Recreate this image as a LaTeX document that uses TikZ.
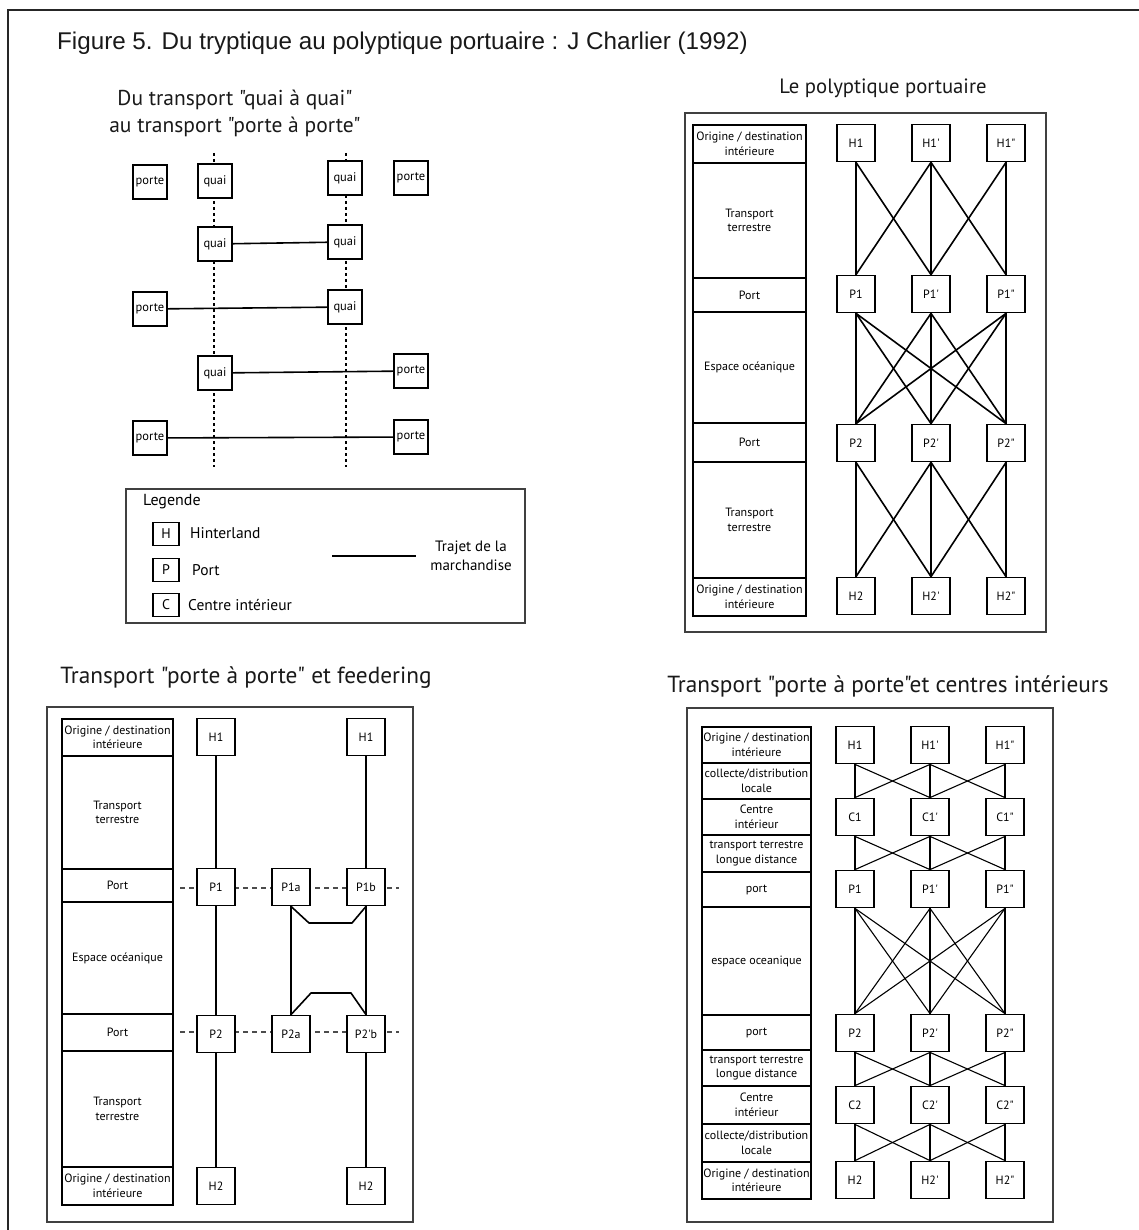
\documentclass[tikz,border=0pt]{standalone}
\usepackage{fontspec}
\setmainfont{PT Sans}[Ligatures=TeXOff]
\newfontfamily\titlefont{Liberation Sans}
\newcommand\dq{\symbol{34}}
\newcommand\sq{\symbol{39}}
\begin{document}
\begin{tikzpicture}[x=1pt,y=-1pt,
  frame/.style={line width=1.8pt,draw=black!85},
  panel/.style={line width=1.4pt,draw=black!75},
  heading/.style={align=center,text=black!90},
  nbox/.style={draw,fill=white,line width=1.8pt,minimum width=38,minimum height=37,inner sep=0,font=\fontsize{12}{14}\selectfont},
  qbox/.style={draw,fill=white,line width=1.8pt,minimum size=34,inner sep=0,font=\fontsize{12.5}{14}\selectfont},
  lbox/.style={draw,line width=1.2pt,minimum width=26,minimum height=23,inner sep=0,font=\fontsize{14}{16}\selectfont},
  cell/.style={draw,line width=1.3pt,inner sep=0,align=center,font=\fontsize{12}{14.5}\selectfont},
  ltext/.style={anchor=west,inner sep=0,font=\fontsize{15.5}{18}\selectfont},
  conn/.style={line width=1.6pt},
  thinconn/.style={line width=1.1pt},
  guide/.style={line width=1.5pt,dash pattern=on 3pt off 3pt},
  feedline/.style={line width=1.3pt,black!70,dash pattern=on 5pt off 4pt}
]
\useasboundingbox (0,0) rectangle (1139,1230);
\newcommand\cellbox[6]{\node[cell,minimum width={#3-#2},minimum height={#5-#4}] (#1) at ({(#2+#3)/2},{(#4+#5)/2}) {#6};}

% outer frame (open on the right and bottom)
\coordinate (fa) at (8,1230);
\coordinate (fb) at (8,10);
\coordinate (fc) at (1139,10);
\draw[frame] (fa) -- (fb) -- (fc);

\node[anchor=base west,inner sep=0,font=\titlefont\fontsize{24.2}{28}\selectfont,text=black!90] (title) at (57,50)
  {Figure 5. Du tryptique au polyptique portuaire : J Charlier (1992)};

% ================= top-left panel =================
\node[heading,font=\fontsize{21.5}{27}\selectfont] (tlhead) at (235,113) {Du transport \dq quai à quai\dq\\au transport \dq porte à porte\dq};
\coordinate (gla) at (214,153);
\coordinate (glb) at (214,467);
\coordinate (gra) at (346,153);
\coordinate (grb) at (346,467);
\draw[guide] (gla) -- (glb);
\draw[guide] (gra) -- (grb);

\node[qbox] (r1a) at (150,182) {porte};
\node[qbox] (r1b) at (215,181) {quai};
\node[qbox] (r1c) at (345,178) {quai};
\node[qbox] (r1d) at (411,178) {porte};

\node[qbox] (r2a) at (215,244) {quai};
\node[qbox] (r2b) at (345,242) {quai};
\draw[conn] (r2a) -- (r2b);

\node[qbox] (r3a) at (150,309) {porte};
\node[qbox] (r3b) at (345,307) {quai};
\draw[conn] (r3a) -- (r3b);

\node[qbox] (r4a) at (215,373) {quai};
\node[qbox] (r4b) at (411,371) {porte};
\draw[conn] (r4a) -- (r4b);

\node[qbox] (r5a) at (150,438) {porte};
\node[qbox] (r5b) at (411,437) {porte};
\draw[conn] (r5a) -- (r5b);

% legend
\draw[panel] (126,489) rectangle (525,623);
\node[ltext,font=\fontsize{16}{18}\selectfont] (leg) at (143,502) {Legende};
\node[lbox] (legH) at (166,534) {H};
\node[ltext] (legHt) at (190,533) {Hinterland};
\node[lbox] (legP) at (166,570) {P};
\node[ltext] (legPt) at (192,570) {Port};
\node[lbox] (legC) at (166,605) {C};
\node[ltext] (legCt) at (188,605) {Centre intérieur};
\coordinate (lla) at (332,556);
\coordinate (llb) at (416,556);
\draw[conn] (lla) -- (llb);
\node[align=center,inner sep=0,font=\fontsize{15}{19}\selectfont] (legtr) at (471,556) {Trajet de la\\marchandise};

% ================= top-right panel =================
\node[heading,font=\fontsize{20.7}{25}\selectfont] (trhead) at (883,88) {Le polyptique portuaire};
\draw[panel] (685,113) rectangle (1046,632);
\cellbox{tc1}{693}{806}{125}{163}{Origine / destination\\intérieure}
\cellbox{tc2}{693}{806}{163}{278}{Transport\\terrestre}
\cellbox{tc3}{693}{806}{278}{312}{Port}
\cellbox{tc4}{693}{806}{312}{423}{Espace océanique}
\cellbox{tc5}{693}{806}{423}{462}{Port}
\cellbox{tc6}{693}{806}{462}{578}{Transport\\terrestre}
\cellbox{tc7}{693}{806}{578}{616}{Origine / destination\\intérieure}

\foreach \n/\x/\s in {a/856/, b/931/\sq, c/1006/\dq} {
  \node[nbox] (trH1\n) at (\x,143) {H1\s};
  \node[nbox] (trP1\n) at (\x,294) {P1\s};
  \node[nbox] (trP2\n) at (\x,443) {P2\s};
  \node[nbox] (trH2\n) at (\x,596) {H2\s};
}
\foreach \i/\j in {a/a,a/b,b/a,b/b,b/c,c/b,c/c} {
  \draw[conn] (trH1\i.south) -- (trP1\j.north);
  \draw[conn] (trP2\i.south) -- (trH2\j.north);
}
\foreach \i in {a,b,c} \foreach \j in {a,b,c} {
  \draw[conn] (trP1\i.south) -- (trP2\j.north);
}

% ================= bottom-left panel =================
\node[heading,font=\fontsize{23.3}{27}\selectfont] (blhead) at (246,678) {Transport \dq porte à porte\dq\ et feedering};
\draw[panel] (47,707) rectangle (413,1222);
\cellbox{bc1}{62}{173}{719}{756}{Origine / destination\\intérieure}
\cellbox{bc2}{62}{173}{756}{869}{Transport\\terrestre}
\cellbox{bc3}{62}{173}{869}{902}{Port}
\cellbox{bc4}{62}{173}{902}{1014}{Espace océanique}
\cellbox{bc5}{62}{173}{1014}{1051}{Port}
\cellbox{bc6}{62}{173}{1051}{1167}{Transport\\terrestre}
\cellbox{bc7}{62}{173}{1167}{1205}{Origine / destination\\intérieure}

\coordinate (d1a) at (180,888);
\coordinate (d1b) at (399,888);
\coordinate (d2a) at (180,1032);
\coordinate (d2b) at (399,1032);
\draw[feedline] (d1a) -- (d1b);
\draw[feedline] (d2a) -- (d2b);

\node[nbox] (blH1a) at (216,737) {H1};
\node[nbox] (blH1b) at (366,737) {H1};
\node[nbox] (blP1) at (216,887) {P1};
\node[nbox] (blP1a) at (291,887) {P1a};
\node[nbox] (blP1b) at (366,887) {P1b};
\node[nbox] (blP2) at (216,1034) {P2};
\node[nbox] (blP2a) at (291,1034) {P2a};
\node[nbox] (blP2b) at (366,1034) {P2\sq b};
\node[nbox] (blH2a) at (216,1186) {H2};
\node[nbox] (blH2b) at (366,1186) {H2};

\draw[conn] (blH1a) -- (blP1);
\draw[conn] (blP1) -- (blP2);
\draw[conn] (blP2) -- (blH2a);
\draw[conn] (blH1b) -- (blP1b);
\draw[conn] (blP1b) -- (blP2b);
\draw[conn] (blP2b) -- (blH2b);
\draw[conn] (blP1a) -- (blP2a);
\coordinate (fk1) at (309,923);
\coordinate (fk2) at (352,923);
\coordinate (fk3) at (311,993);
\coordinate (fk4) at (351,993);
\draw[conn,line join=round] (blP1a.south) -- (fk1) -- (fk2) -- (blP1b.south);
\draw[conn,line join=round] (blP2a.north) -- (fk3) -- (fk4) -- (blP2b.north);

% ================= bottom-right panel =================
\node[heading,font=\fontsize{23.3}{27}\selectfont] (brhead) at (888,686) {Transport \dq porte à porte\dq et centres intérieurs};
\draw[panel] (687,708) rectangle (1053,1222);
\cellbox{rc1}{702}{811}{727}{763}{Origine / destination\\intérieure}
\cellbox{rc2}{702}{811}{763}{799}{collecte/distribution\\locale}
\cellbox{rc3}{702}{811}{799}{835}{Centre\\intérieur}
\cellbox{rc4}{702}{811}{835}{872}{transport terrestre\\longue distance}
\cellbox{rc5}{702}{811}{872}{907}{port}
\cellbox{rc6}{702}{811}{907}{1015}{espace oceanique}
\cellbox{rc7}{702}{811}{1015}{1050}{port}
\cellbox{rc8}{702}{811}{1050}{1086}{transport terrestre\\longue distance}
\cellbox{rc9}{702}{811}{1086}{1124}{Centre\\intérieur}
\cellbox{rc10}{702}{811}{1124}{1162}{collecte/distribution\\locale}
\cellbox{rc11}{702}{811}{1162}{1199}{Origine / destination\\intérieure}

\foreach \n/\x/\s in {a/855/, b/930/\sq, c/1005/\dq} {
  \node[nbox] (brH1\n) at (\x,745) {H1\s};
  \node[nbox] (brC1\n) at (\x,817) {C1\s};
  \node[nbox] (brP1\n) at (\x,889) {P1\s};
  \node[nbox] (brP2\n) at (\x,1033) {P2\s};
  \node[nbox] (brC2\n) at (\x,1105) {C2\s};
  \node[nbox] (brH2\n) at (\x,1180) {H2\s};
}
\foreach \i/\j in {a/a,a/b,b/a,b/b,b/c,c/b,c/c} {
  \draw[thinconn] (brH1\i.south) -- (brC1\j.north);
  \draw[thinconn] (brC1\i.south) -- (brP1\j.north);
  \draw[thinconn] (brP2\i.south) -- (brC2\j.north);
  \draw[thinconn] (brC2\i.south) -- (brH2\j.north);
}
\foreach \i in {a,b,c} \foreach \j in {a,b,c} {
  \draw[thinconn] (brP1\i.south) -- (brP2\j.north);
}
\end{tikzpicture}
\end{document}
